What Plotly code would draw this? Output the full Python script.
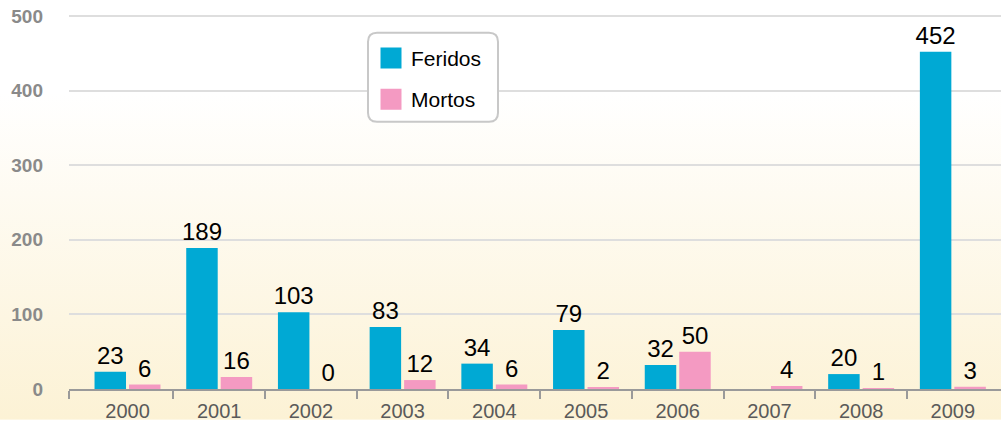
import base64
import plotly.graph_objects as go

# Annual counts
years = [2000, 2001, 2002, 2003, 2004, 2005, 2006, 2007, 2008, 2009]
feridos = [23, 189, 103, 83, 34, 79, 32, None, 20, 452]
mortos = [6, 16, 0, 12, 6, 2, 50, 4, 1, 3]
y_ticks = [0, 100, 200, 300, 400, 500]

BLUE = "#00a9d4"
PINK = "#f49ac2"
FONT = "Liberation Sans, Arial, sans-serif"

W, H = 1001, 422
ML, MR, MT, MB = 69, 0, 0, 31
PW, PH = W - ML - MR, H - MT - MB

# page background: white top fading to cream at the bottom
svg = (
    '<svg xmlns="http://www.w3.org/2000/svg" width="100" height="100" preserveAspectRatio="none">'
    '<defs><linearGradient id="g" x1="0" y1="0" x2="0" y2="1">'
    '<stop offset="0" stop-color="#ffffff"/>'
    '<stop offset="0.22" stop-color="#ffffff"/>'
    '<stop offset="1" stop-color="#fcf2d5"/>'
    '</linearGradient></defs>'
    '<rect width="100" height="100" fill="url(#g)"/></svg>'
)
bg_src = "data:image/svg+xml;base64," + base64.b64encode(svg.encode()).decode()

fig = go.Figure()

for name, vals, color in [("Feridos", feridos, BLUE), ("Mortos", mortos, PINK)]:
    fig.add_trace(go.Bar(
        x=years, y=vals, name=name,
        marker=dict(color=color, line=dict(width=0)),
        text=[("" if v is None else str(v)) for v in vals],
        texttemplate="%{text}",
        textposition="outside",
        constraintext="none",
        cliponaxis=False,
        textfont=dict(family=FONT, size=24, color="#000000"),
        showlegend=False,
        hoverinfo="x+y+name",
    ))

# legend entries with larger square swatches
for name, color in [("Feridos", BLUE), ("Mortos", PINK)]:
    fig.add_trace(go.Scatter(
        x=[None], y=[None], mode="markers", name=name,
        legendgroup=name,
        marker=dict(symbol="square", size=16, color=color,
                    line=dict(color=color, width=5)),
    ))

x0 = years[0] - 0.638
x1 = years[-1] + 0.525
boundaries = [x0] + [y + 0.5 for y in years[:-1]]

# rounded legend frame
fx = (368 - ML) / PW
fy = 1 - (33 - MT) / PH
bw, bh, r = 130, 89, 9
frame = (f"M {r},0 L {bw - r},0 Q {bw},0 {bw},{-r} L {bw},{-(bh - r)} "
         f"Q {bw},{-bh} {bw - r},{-bh} L {r},{-bh} Q 0,{-bh} 0,{-(bh - r)} "
         f"L 0,{-r} Q 0,0 {r},0 Z")

fig.update_layout(
    width=W, height=H,
    margin=dict(l=ML, r=MR, t=MT, b=MB, pad=0),
    paper_bgcolor="#ffffff",
    plot_bgcolor="rgba(0,0,0,0)",
    barmode="group",
    bargap=0.248,
    bargroupgap=0.087,
    font=dict(family=FONT),
    images=[dict(
        source=bg_src, xref="paper", yref="paper",
        x=-ML / PW, y=1 + MT / PH, sizex=1 + ML / PW, sizey=1 + (MT + MB) / PH,
        xanchor="left", yanchor="top", sizing="stretch", layer="below",
    )],
    shapes=[dict(
        type="path", xref="paper", yref="paper",
        xsizemode="pixel", ysizemode="pixel",
        xanchor=fx, yanchor=fy, path=frame,
        fillcolor="#ffffff", line=dict(color="#c8c8c8", width=2),
        layer="above",
    )],
    legend=dict(
        x=(371 - ML) / PW, y=1 - (38 - MT) / PH, xanchor="left", yanchor="top",
        xref="paper", yref="paper",
        bgcolor="rgba(0,0,0,0)", borderwidth=0,
        font=dict(family=FONT, size=21, color="#000000"),
        tracegroupgap=11,
        itemsizing="trace",
    ),
    showlegend=True,
    xaxis=dict(
        range=[x0, x1],
        tickmode="array", tickvals=years, ticktext=[str(y) for y in years],
        ticks="", showgrid=False, zeroline=False,
        showline=True, linecolor="#9a9a9a", linewidth=2,
        tickfont=dict(family=FONT, size=20, color="#5a5a5a"),
        ticklabelstandoff=3,
        minor=dict(tickmode="array", tickvals=boundaries, ticks="outside",
                   ticklen=8, tickwidth=2, tickcolor="#9a9a9a", showgrid=False),
        fixedrange=True,
    ),
    yaxis=dict(
        range=[0, 500 + 16 * 500 / 375],
        tickmode="array", tickvals=y_ticks,
        ticks="", showgrid=True, gridcolor="#dedede", gridwidth=2,
        zeroline=False, showline=False,
        tickfont=dict(family=FONT, size=19, color="#8a8a8a", weight="bold"),
        ticklabelstandoff=25,
        fixedrange=True,
    ),
)

fig.write_html("out.html")
